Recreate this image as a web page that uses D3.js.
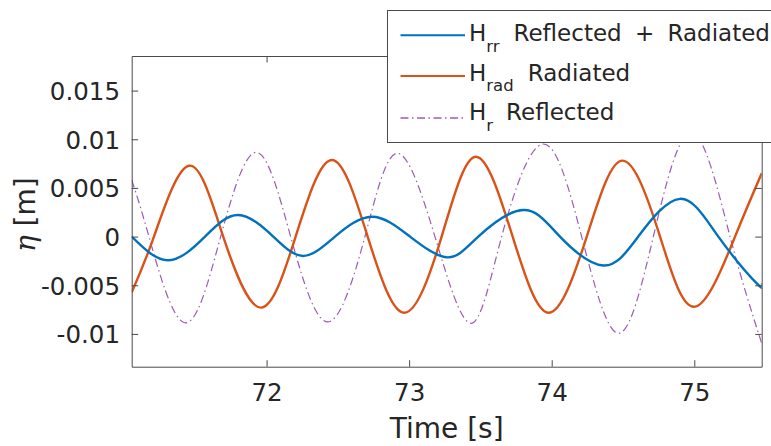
<!DOCTYPE html>
<html>
<head>
<meta charset="utf-8">
<script src="https://cdn.jsdelivr.net/npm/d3@7"></script>
<style>
  html, body { margin: 0; padding: 0; background: #fff; }
  svg { display: block; }
  text { font-family: "DejaVu Sans", Verdana, sans-serif; fill: #262626; }
</style>
</head>
<body>
<div id="chart"></div>
<script>
// Surface elevation time series (extrema and zero crossings of each record)
const radTime = [71.054, 71.210, 71.456, 71.696, 71.959, 72.204, 72.457, 72.709, 72.966, 73.228,
                 73.469, 73.726, 73.981, 74.246, 74.498, 74.760, 75.005, 75.286, 75.473];
const radEta  = [-0.00572, 0, 0.00728, 0, -0.00730, 0, 0.00787, 0, -0.00782, 0,
                 0.00821, 0, -0.00782, 0, 0.00780, 0, -0.00720, 0, 0.00650];

const refTime = [71.054, 71.175, 71.425, 71.678, 71.928, 72.169, 72.429, 72.690, 72.917, 73.181,
                 73.432, 73.649, 73.941, 74.210, 74.467, 74.713, 74.982, 75.251, 75.473];
const refEta  = [0.00581, 0, -0.00885, 0, 0.00866, 0, -0.00877, 0, 0.00856, 0,
                 -0.00891, 0, 0.00951, 0, -0.00993, 0, 0.0107, 0, -0.01096];

const sumTime = [71.054, 71.310, 71.568, 71.801, 72.047, 72.257, 72.480, 72.739, 73.006, 73.269,
                 73.485, 73.801, 74.058, 74.362, 74.607, 74.900, 75.169, 75.440, 75.473];
const sumEta  = [0, -0.00243, 0, 0.00222, 0, -0.00199, 0, 0.00204, 0, -0.00213,
                 0, 0.00273, 0, -0.00297, 0, 0.00388, 0, -0.00484, -0.00481];

const xTicks = [72, 73, 74, 75];
const yTicks = [-0.01, -0.005, 0, 0.005, 0.01, 0.015];
const yTickLabels = ["-0.01", "-0.005", "0", "0.005", "0.01", "0.015"];
const xDomain = [71.054, 75.473];
const yDomain = [-0.013366, 0.018553];

const W = 771, H = 446;
const plot = { left: 131.7, right: 761.7, top: 56, bottom: 366.7 };
const axisColor = "#4a4a4a";

const svg = d3.select("#chart").append("svg")
  .attr("width", W).attr("height", H).attr("viewBox", `0 0 ${W} ${H}`);

const x = d3.scaleLinear().domain(xDomain).range([plot.left, plot.right]);
const y = d3.scaleLinear().domain(yDomain).range([plot.bottom, plot.top]);

svg.append("defs").append("clipPath").attr("id", "plot-clip")
  .append("rect")
  .attr("x", plot.left).attr("y", plot.top)
  .attr("width", plot.right - plot.left).attr("height", plot.bottom - plot.top);

// Series
const series = [
  { t: sumTime, v: sumEta, color: "#0072BD", width: 2.4, dash: null },
  { t: radTime, v: radEta, color: "#D95319", width: 2.4, dash: null },
  { t: refTime, v: refEta, color: "#9a5cb5", width: 1.2, dash: "8,3.5,1.5,3.5" }
];

const line = d3.line()
  .x(d => x(d[0]))
  .y(d => y(d[1]))
  .curve(d3.curveNatural);

const lines = svg.append("g").attr("clip-path", "url(#plot-clip)");
// draw order: reflected (thin) first, then radiated, then combined
[series[2], series[1], series[0]].forEach(s => {
  lines.append("path")
    .datum(s.t.map((t, i) => [t, s.v[i]]))
    .attr("fill", "none")
    .attr("stroke", s.color)
    .attr("stroke-width", s.width)
    .attr("stroke-dasharray", s.dash)
    .attr("stroke-linejoin", "round")
    .attr("d", line);
});

// Axes (inward ticks, box on all four sides)
function styleAxis(g) {
  g.selectAll("path.domain").attr("stroke", axisColor).attr("stroke-width", 1);
  g.selectAll(".tick line").attr("stroke", axisColor).attr("stroke-width", 1);
  g.selectAll("text").attr("font-family", "DejaVu Sans").attr("fill", "#2b2b2b");
}

const gx = svg.append("g")
  .attr("transform", `translate(0,${plot.bottom})`)
  .call(d3.axisBottom(x).tickValues(xTicks).tickFormat(d3.format("d"))
    .tickSizeInner(-6.5).tickSizeOuter(0));
gx.call(styleAxis);
gx.selectAll("text").attr("font-size", "24.5px").attr("y", 34.3).attr("dy", null);

const gy = svg.append("g")
  .attr("transform", `translate(${plot.left},0)`)
  .call(d3.axisLeft(y).tickValues(yTicks).tickFormat((d, i) => yTickLabels[i])
    .tickSizeInner(-6.5).tickSizeOuter(0));
gy.call(styleAxis);
gy.selectAll("text").attr("font-size", "24.5px").attr("x", -11.7).attr("dy", "0.36em");

const gt = svg.append("g")
  .attr("transform", `translate(0,${plot.top})`)
  .call(d3.axisTop(x).tickValues(xTicks).tickFormat("").tickSizeInner(-6.5).tickSizeOuter(0));
gt.call(styleAxis);

const gr = svg.append("g")
  .attr("transform", `translate(${plot.right},0)`)
  .call(d3.axisRight(y).tickValues(yTicks).tickFormat("").tickSizeInner(-6.5).tickSizeOuter(0));
gr.call(styleAxis);

// Axis labels
svg.append("text")
  .attr("x", (plot.left + plot.right) / 2)
  .attr("y", 438)
  .attr("text-anchor", "middle")
  .attr("font-size", "28px")
  .attr("fill", "#2b2b2b")
  .text("Time [s]");

const ylab = svg.append("text")
  .attr("transform", "translate(35,214.7) rotate(-90)")
  .attr("text-anchor", "middle")
  .attr("font-size", "28px")
  .attr("fill", "#2b2b2b");
ylab.append("tspan")
  .attr("font-family", "DejaVu Serif")
  .attr("font-style", "italic")
  .text("η");
ylab.append("tspan").text(" [m]");

// Legend
const legendItems = [
  { name: "H", sub: "rr", desc: "Reflected + Radiated", s: series[0], lineY: 35.3, base: 41.3, descX: 513.5 },
  { name: "H", sub: "rad", desc: "Radiated", s: series[1], lineY: 76, base: 80.6, descX: 527.8 },
  { name: "H", sub: "r", desc: "Reflected", s: series[2], lineY: 118, base: 120.3, descX: 506.1 }
];

const lg = svg.append("g");
lg.append("rect")
  .attr("x", 387.5).attr("y", 10.5)
  .attr("width", 420).attr("height", 132)
  .attr("fill", "#fff")
  .attr("stroke", axisColor)
  .attr("stroke-width", 1);

legendItems.forEach(it => {
  lg.append("line")
    .attr("x1", 400.5).attr("x2", 465)
    .attr("y1", it.lineY).attr("y2", it.lineY)
    .attr("stroke", it.s.color)
    .attr("stroke-width", it.s.dash ? 1.3 : 2)
    .attr("stroke-dasharray", it.s.dash);
  const t = lg.append("text")
    .attr("x", 469)
    .attr("y", it.base)
    .attr("font-size", "23px")
    .attr("fill", "#1a1a1a");
  t.append("tspan").text(it.name);
  t.append("tspan").attr("font-size", "16.5px").attr("dy", 10.5).text(it.sub);
  t.append("tspan").attr("x", it.descX).attr("dy", -10.5)
    .attr("word-spacing", "6px")
    .text(it.desc);
});
</script>
</body>
</html>
